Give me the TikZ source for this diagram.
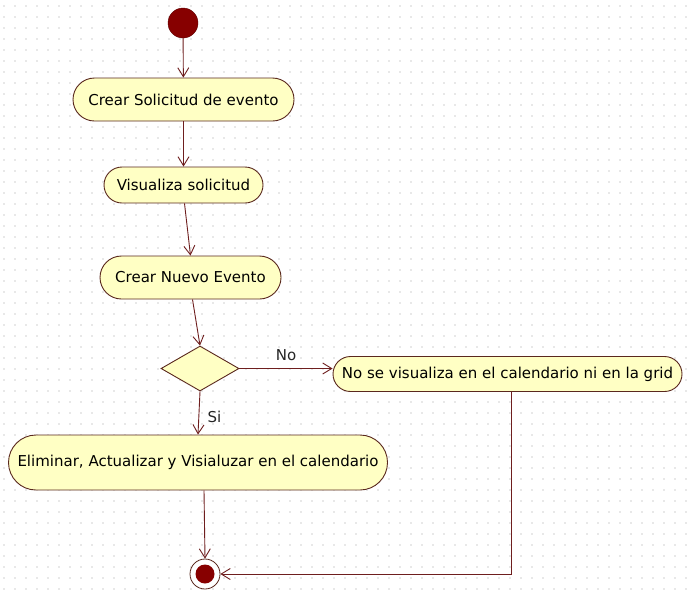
\documentclass[tikz,border=0pt]{standalone}
\usepackage{fontspec}
\setmainfont{DejaVu Sans}
\usetikzlibrary{shapes.geometric,arrows.meta}
\definecolor{actfill}{RGB}{255,255,196}
\definecolor{actdraw}{RGB}{90,40,30}
\definecolor{linecol}{RGB}{110,30,30}
\definecolor{dotred}{RGB}{135,0,0}
\definecolor{griddot}{RGB}{210,210,210}
\tikzset{
  activity/.style={draw=actdraw, fill=actfill, line width=0.9pt, rounded corners=#1, inner sep=0pt, font=\fontsize{15}{17}\selectfont},
  activity/.default=18pt,
  decision/.style={draw=actdraw, fill=actfill, line width=0.9pt, diamond, inner sep=0pt, minimum width=78pt, minimum height=45pt},
  startnode/.style={circle, fill=dotred, draw=dotred!70!black, minimum size=30pt, inner sep=0pt},
  flow/.style={draw=linecol, line width=0.9pt, -{Straight Barb[length=9pt,width=11pt]}},
  guard/.style={font=\fontsize{15}{17}\selectfont, text=black!85}
}
\begin{document}
\begin{tikzpicture}[x=1pt,y=-1pt]
\useasboundingbox (0,0) rectangle (692,598);
\fill[white] (0,0) rectangle (692,598);
\foreach \gy in {6,17,...,598} {
  \foreach \gx in {4,15,...,692} {
    \fill[griddot] (\gx,\gy) circle (0.85pt);
  }
}
\node[startnode] (start) at (183,23) {};
\node[activity=21.5pt, minimum width=221pt, minimum height=43pt] (n1) at (183.5,99.5) {Crear Solicitud de evento};
\node[activity=18pt, minimum width=159pt, minimum height=36pt] (n2) at (183.5,185) {Visualiza solicitud};
\node[activity=21.5pt, minimum width=181pt, minimum height=43pt] (n3) at (190.5,277.5) {Crear Nuevo Evento};
\node[decision] (d) at (200,368.5) {};
\node[activity=17.5pt, minimum width=349pt, minimum height=35pt] (n4) at (507.5,374) {No se visualiza en el calendario ni en la grid};
\node[activity=27.5pt, minimum width=379pt, minimum height=55pt] (n5) at (198,462.5) {Eliminar, Actualizar y Visialuzar en el calendario};
\node[circle, draw=actdraw, fill=white, line width=0.8pt, minimum size=30pt, inner sep=0pt] (end) at (205,574) {};
\node[circle, fill=dotred, minimum size=19pt, inner sep=0pt] (endin) at (end.center) {};

\draw[flow] (start) -- (n1);
\draw[flow] (n1) -- (n2);
\draw[flow] ([xshift=1pt]n2.south) -- (n3.north);
\draw[flow] ([xshift=2pt]n3.south) -- (d.north);
\draw[flow] (d.east) -- (d.east -| n4.west) node[guard, pos=0.5, above=4pt] {No};
\draw[flow] (d.south) -- (n5.north) node[guard, pos=0.6, right=5pt] {Si};
\draw[flow] ([xshift=6pt]n5.south) -- (end.north);
\draw[flow] ([xshift=4pt]n4.south) |- (end.east);
\end{tikzpicture}
\end{document}
